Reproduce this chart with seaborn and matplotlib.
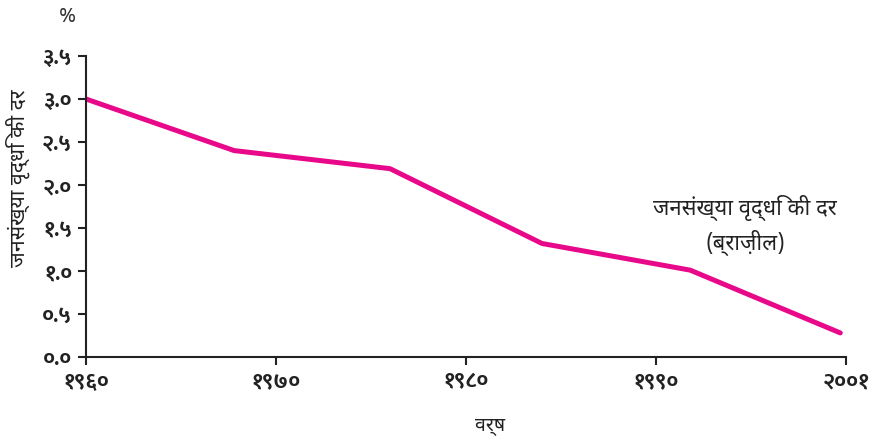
import matplotlib
matplotlib.use("Agg")
import matplotlib.pyplot as plt
import seaborn as sns
import pandas as pd

years = [1960, 1967.8, 1976, 1984, 1991.8, 1999.7]
growth_rate = [3.0, 2.4, 2.19, 1.32, 1.01, 0.28]

x_ticks = [1960, 1970, 1980, 1990, 2000]
x_tick_labels = ["१९६०", "१९७०", "१९८०", "१९९०", "२००१"]
y_ticks = [0.0, 0.5, 1.0, 1.5, 2.0, 2.5, 3.0, 3.5]
y_tick_labels = ["०.०", "०.५", "१.०", "१.५", "२.०", "२.५", "३.०", "३.५"]

sns.set_style("ticks")
plt.rcParams["font.family"] = ["Noto Sans Devanagari", "DejaVu Sans"]
tick_font = {"family": ["Mukta", "Noto Sans Devanagari"], "weight": "bold", "size": 16}

df = pd.DataFrame({"year": years, "rate": growth_rate})

fig = plt.figure(figsize=(8.81, 4.43), dpi=100)
ax = fig.add_axes([86 / 881, 1 - 357 / 443, (846 - 86) / 881, (357 - 56) / 443])

sns.lineplot(data=df, x="year", y="rate", ax=ax, color="#e8088a", linewidth=3.6)

ax.set_xlim(1960, 2000)
ax.set_ylim(0, 3.5)
ax.set_xticks(x_ticks)
ax.set_xticklabels(x_tick_labels, fontdict=tick_font)
ax.set_yticks(y_ticks)
ax.set_yticklabels(y_tick_labels, fontdict=tick_font)
ax.tick_params(axis="both", direction="out", length=6, width=1.5, colors="#222222", pad=4)

sns.despine(ax=ax)
for s in ["left", "bottom"]:
    ax.spines[s].set_linewidth(1.5)
    ax.spines[s].set_color("#222222")

ax.set_xlabel("")
ax.set_ylabel("")
fig.text(18 / 881, 1 - 178 / 443, "जनसंख्या वृद्धि की दर", fontsize=15.3, rotation=90,
         ha="center", va="center", color="#222222")
fig.text(490 / 881, 1 - 425 / 443, "वर्ष", fontsize=14, ha="center", va="center", color="#222222")
fig.text(68 / 881, 1 - 16 / 443, "%", fontsize=15, ha="center", va="center", color="#333333")

ax.text(1994.7, 1.53, "जनसंख्या वृद्धि की दर\n(ब्राज़ील)", fontsize=15.8, ha="center", va="center",
        color="#222222", linespacing=1.45)

fig.savefig("out.png", dpi=100)
